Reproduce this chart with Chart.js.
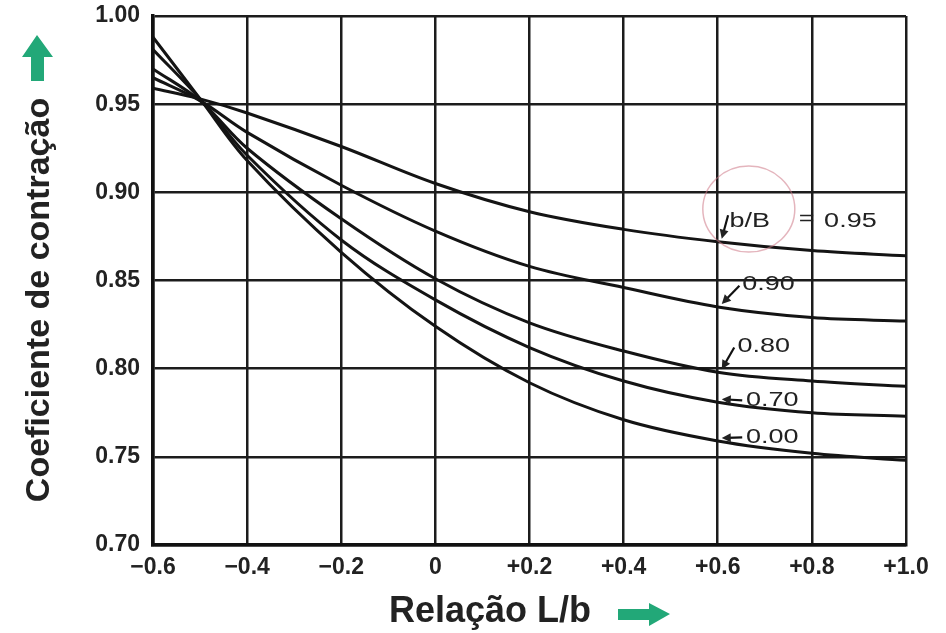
<!DOCTYPE html>
<html>
<head>
<meta charset="utf-8">
<script src="https://cdn.jsdelivr.net/npm/chart.js@4/dist/chart.umd.min.js"></script>
<style>
  html,body{margin:0;padding:0;background:#fff;}
  #c{display:block;}
</style>
</head>
<body>
<canvas id="c" width="946" height="633"></canvas>
<script>
// ── data ───────────────────────────────────────────────
const xValues   = [-0.6, -0.5, -0.4, -0.2, 0, 0.2, 0.4, 0.6, 0.8, 1.0];
const curve095  = [0.959, 0.953, 0.945, 0.926, 0.905, 0.889, 0.879, 0.872, 0.867, 0.864];
const curve090  = [0.965, 0.952, 0.934, 0.904, 0.878, 0.858, 0.846, 0.835, 0.829, 0.827];
const curve080  = [0.970, 0.952, 0.925, 0.885, 0.851, 0.826, 0.810, 0.798, 0.793, 0.790];
const curve070  = [0.981, 0.953, 0.921, 0.873, 0.839, 0.812, 0.793, 0.781, 0.775, 0.773];
const curve000  = [0.988, 0.953, 0.918, 0.866, 0.824, 0.792, 0.771, 0.759, 0.752, 0.748];
const seriesNames = ['0.95', '0.90', '0.80', '0.70', '0.00'];
const xTickLabels = ['\u22120.6', '\u22120.4', '\u22120.2', '0', '+0.2', '+0.4', '+0.6', '+0.8', '+1.0'];
const yTickLabels = ['0.70', '0.75', '0.80', '0.85', '0.90', '0.95', '1.00'];
const yTitle = 'Coeficiente de contração';
const xTitle = 'Relação L/b';

const allCurves = [curve095, curve090, curve080, curve070, curve000];

// labels placed in data units, arrows end on their curve at x = +0.6
const labelMarks = [
  {text:'b/B',  tx:0.625, ty:0.8835, ax:0.622, ay:0.887, s:0},
  {text:'=',    tx:0.772, ty:0.8845},
  {text:'0.95', tx:0.826, ty:0.8835},
  {text:'0.90', tx:0.652, ty:0.8475, ax:0.646, ay:0.847, s:1},
  {text:'0.80', tx:0.642, ty:0.8125, ax:0.635, ay:0.812, s:2},
  {text:'0.70', tx:0.660, ty:0.7820, ax:0.652, ay:0.782, s:3},
  {text:'0.00', tx:0.660, ty:0.7610, ax:0.652, ay:0.761, s:4}
];
const ANCHOR_X = 0.6;

const INK = '#141414';
const GREEN = '#22a878';
const FONT = '"Liberation Sans", Arial, Helvetica, sans-serif';

function arrowLine(ctx, x1, y1, x2, y2){
  const a = Math.atan2(y2-y1, x2-x1), L = 9, W = 4.5;
  ctx.beginPath(); ctx.moveTo(x1,y1); ctx.lineTo(x2-Math.cos(a)*L*0.6, y2-Math.sin(a)*L*0.6); ctx.stroke();
  ctx.beginPath();
  ctx.moveTo(x2,y2);
  ctx.lineTo(x2-Math.cos(a)*L-Math.sin(a)*W, y2-Math.sin(a)*L+Math.cos(a)*W);
  ctx.lineTo(x2-Math.cos(a)*L+Math.sin(a)*W, y2-Math.sin(a)*L-Math.cos(a)*W);
  ctx.closePath(); ctx.fill();
}

const deco = {
  id:'deco',
  beforeDraw(chart){
    const c=chart.ctx; c.save(); c.fillStyle='#fff'; c.fillRect(0,0,chart.width,chart.height); c.restore();
  },
  afterDraw(chart){
    const ctx=chart.ctx, xs=chart.scales.x, ys=chart.scales.y;
    const idx=xValues.indexOf(ANCHOR_X);
    ctx.save();

    // curve labels + arrows
    ctx.fillStyle='#222'; ctx.strokeStyle='#111'; ctx.lineWidth=2.2;
    ctx.font='20px '+FONT; ctx.textBaseline='middle'; ctx.textAlign='left';
    labelMarks.forEach(m=>{
      const px=xs.getPixelForValue(m.tx), py=ys.getPixelForValue(m.ty);
      ctx.save(); ctx.translate(px,py); ctx.scale(1.35,1); ctx.fillText(m.text,0,0); ctx.restore();
      if(m.s!=null){
        const ex=xs.getPixelForValue(ANCHOR_X)+4, ey=ys.getPixelForValue(allCurves[m.s][idx])-3;
        arrowLine(ctx, xs.getPixelForValue(m.ax), ys.getPixelForValue(m.ay), ex, ey);
      }
    });

    // faint circle round "b/B"
    ctx.strokeStyle='rgba(205,120,135,0.55)'; ctx.lineWidth=1.5;
    ctx.beginPath();
    ctx.ellipse(xs.getPixelForValue(0.666), ys.getPixelForValue(0.8905), 46, 43, 0, 0, Math.PI*2);
    ctx.stroke();

    // axis titles
    ctx.fillStyle='#222'; ctx.textAlign='center'; ctx.textBaseline='alphabetic';
    ctx.font='bold 34px '+FONT;
    ctx.save(); ctx.translate(49,300); ctx.rotate(-Math.PI/2); ctx.fillText(yTitle,0,0); ctx.restore();
    ctx.font='bold 36px '+FONT;
    ctx.fillText(xTitle,490,622);

    // green arrows next to the titles
    ctx.fillStyle=GREEN;
    ctx.beginPath();
    ctx.moveTo(37,35); ctx.lineTo(53,57); ctx.lineTo(44,57); ctx.lineTo(44,81);
    ctx.lineTo(31,81); ctx.lineTo(31,57); ctx.lineTo(22,57); ctx.closePath(); ctx.fill();
    ctx.beginPath();
    ctx.moveTo(670,614); ctx.lineTo(649,603); ctx.lineTo(649,609); ctx.lineTo(618,609);
    ctx.lineTo(618,620); ctx.lineTo(649,620); ctx.lineTo(649,626); ctx.closePath(); ctx.fill();

    ctx.restore();
  }
};

new Chart(document.getElementById('c'), {
  type:'line',
  data:{
    datasets: allCurves.map((arr,i)=>({
      label:'b/B = '+seriesNames[i],
      data: xValues.map((x,j)=>({x, y:arr[j]})),
      borderColor:INK, borderWidth:3, pointRadius:0,
      tension:0.35, fill:false
    }))
  },
  options:{
    responsive:false, animation:false, devicePixelRatio:1,
    layout:{padding:{left:0, right:40, top:16, bottom:0}},
    plugins:{legend:{display:false}, tooltip:{enabled:false}},
    scales:{
      x:{
        type:'linear', min:-0.6, max:1.0,
        afterFit(s){ s.height=88; s.paddingLeft=0; s.paddingRight=0; },
        ticks:{stepSize:0.2, padding:9, color:'#222', font:{family:FONT, size:23, weight:'bold'},
          callback:(v,i)=>xTickLabels[i]},
        grid:{color:'#1c1c1c', lineWidth:2.5, drawTicks:false},
        border:{display:true, color:'#111', width:3.5}
      },
      y:{
        type:'linear', min:0.70, max:1.00,
        afterFit(s){ s.width=153; s.paddingTop=0; s.paddingBottom=0; },
        ticks:{stepSize:0.05, padding:13, color:'#222', font:{family:FONT, size:23, weight:'bold'},
          callback:(v,i)=>yTickLabels[i]},
        grid:{color:'#1c1c1c', lineWidth:2.5, drawTicks:false},
        border:{display:true, color:'#111', width:3.5}
      }
    }
  },
  plugins:[deco]
});
</script>
</body>
</html>
